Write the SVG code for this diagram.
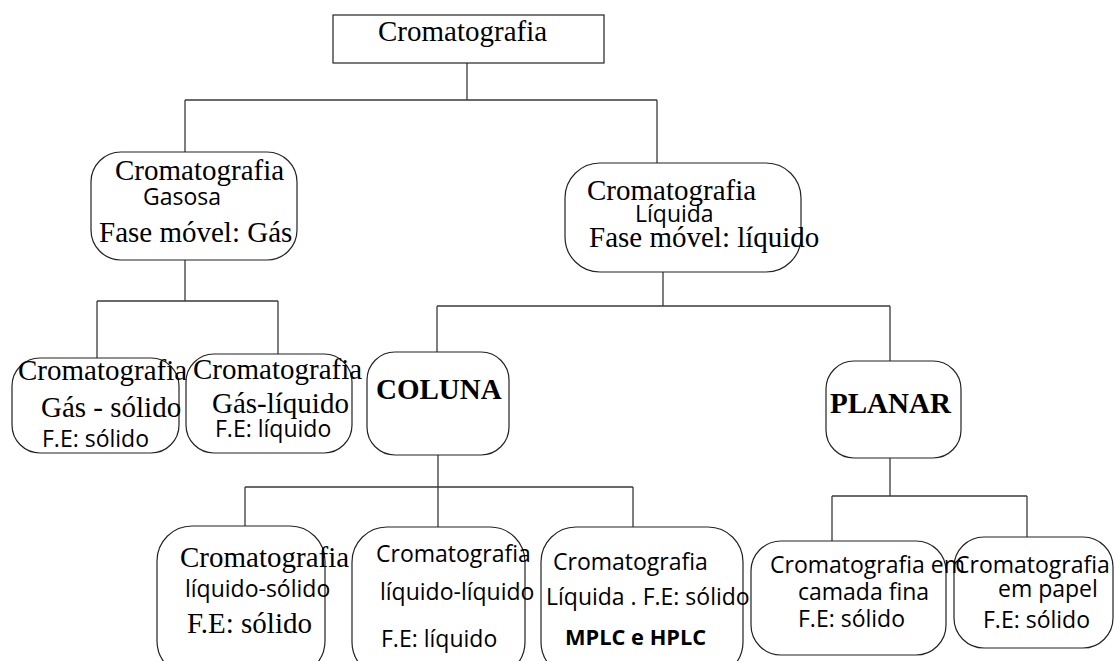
<svg xmlns="http://www.w3.org/2000/svg" width="1115" height="661" viewBox="0 0 1115 661">
<style>
.c{fill:none;stroke:#3a3a3a;stroke-width:1.3}
.b{fill:#fff;stroke:#222;stroke-width:1.2}
.t{font-family:"Liberation Serif","Times New Roman",serif;font-size:29px;fill:#000}
.tb{font-family:"Liberation Serif","Times New Roman",serif;font-size:29px;font-weight:bold;fill:#000}
.s{font-family:"Open Sans","Noto Sans",sans-serif;font-size:23px;fill:#000}
.sb{font-family:"Open Sans","Noto Sans",sans-serif;font-size:21.8px;font-weight:bold;fill:#000}
</style>
<rect width="1115" height="661" fill="#fff"/>
<g id="connectors">
<path class="c" d="M467,63V100M185,100H657M185,100V152M657,100V163"/>
<path class="c" d="M185,260V301M97,301H278M97,301V358M278,301V354"/>
<path class="c" d="M663,272V306M437,306H890M437,306V352M890,306V361"/>
<path class="c" d="M438,455V527M245,487H633M245,487V526M633,487V527"/>
<path class="c" d="M890,458V496M832,496H1027M832,496V541M1027,496V537"/>
</g>
<g id="n-root"><rect class="b" x="333" y="15" width="271" height="48"/><text class="t" x="378" y="41">Cromatografia</text></g>
<g id="n-gas"><rect class="b" x="91" y="152" width="206" height="108" rx="30"/>
<text class="t" x="115" y="180">Cromatografia</text><text class="s" x="143" y="205" font-size="22">Gasosa</text><text class="t" x="99" y="242">Fase móvel: Gás</text></g>
<g id="n-liq"><rect class="b" x="565" y="163" width="236" height="109" rx="35"/>
<text class="t" x="587" y="200">Cromatografia</text><text class="s" x="635" y="222" font-size="22">Líquida</text><text class="t" x="589" y="247">Fase móvel: líquido</text></g>
<g id="n-gs"><rect class="b" x="12" y="358" width="167" height="95" rx="28"/>
<text class="t" x="18" y="380">Cromatografia</text><text class="t" x="41" y="417">Gás - sólido</text><text class="s" x="42" y="447" font-size="22">F.E: sólido</text></g>
<g id="n-gl"><rect class="b" x="186" y="354" width="166" height="99" rx="28"/>
<text class="t" x="193" y="379">Cromatografia</text><text class="t" x="212" y="413">Gás-líquido</text><text class="s" x="215" y="437" font-size="22">F.E: líquido</text></g>
<g id="n-coluna"><rect class="b" x="367" y="352" width="142" height="103" rx="28"/><text class="tb" x="376" y="399">COLUNA</text></g>
<g id="n-planar"><rect class="b" x="826" y="361" width="135" height="97" rx="28"/><text class="tb" x="830" y="413">PLANAR</text></g>
<g id="n-ls"><rect class="b" x="157" y="526" width="168" height="150" rx="35"/>
<text class="t" x="180" y="567" font-size="26">Cromatografia</text><text class="s" x="185" y="597">líquido-sólido</text><text class="t" x="187" y="633" font-size="27">F.E: sólido</text></g>
<g id="n-ll"><rect class="b" x="352" y="527" width="173" height="150" rx="35"/>
<text class="s" x="376" y="562" font-size="23.5">Cromatografia</text><text class="s" x="380" y="600">líquido-líquido</text><text class="s" x="381" y="647">F.E: líquido</text></g>
<g id="n-lfe"><rect class="b" x="541" y="527" width="202" height="150" rx="35"/>
<text class="s" x="553" y="570" font-size="23.5">Cromatografia</text><text class="s" x="546" y="605">Líquida . F.E: sólido</text><text class="sb" x="565" y="645">MPLC e HPLC</text></g>
<g id="n-paper"><rect class="b" x="954" y="537" width="159" height="111" rx="30"/>
<text class="s" x="955" y="573" font-size="24.5">Cromatografia</text><text class="s" x="998" y="597">em papel</text><text class="s" x="983" y="628" font-size="24.5">F.E: sólido</text></g>
<g id="n-tlc"><rect class="b" x="751" y="541" width="195" height="114" rx="30"/>
<text class="s" x="770" y="573" font-size="21.8">Cromatografia em</text><text class="s" x="798" y="600">camada fina</text><text class="s" x="798" y="627">F.E: sólido</text></g>
</svg>
